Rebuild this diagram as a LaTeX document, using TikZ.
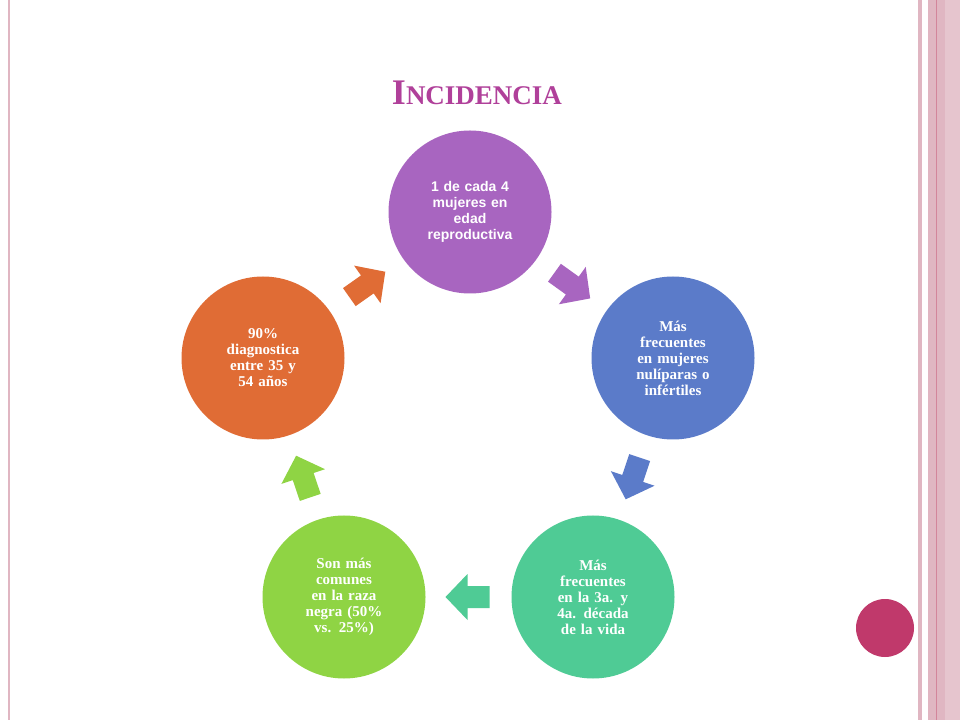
\documentclass[tikz,border=0pt]{standalone}
\usepackage{fontspec}
\setmainfont{Liberation Serif}
\newfontfamily\sansf{Liberation Sans}
\definecolor{cTop}{HTML}{A865C0}
\definecolor{cRight}{HTML}{5B7BC9}
\definecolor{cBR}{HTML}{4FCB95}
\definecolor{cBL}{HTML}{8FD444}
\definecolor{cLeft}{HTML}{E06C35}
\definecolor{pinkS}{HTML}{E0B6C2}
\definecolor{pinkD}{HTML}{C05070}
\definecolor{titleC}{HTML}{B0409A}
\definecolor{btn}{HTML}{C0396B}
\begin{document}
\begin{tikzpicture}[x=1pt,y=1pt,
  circ/.style={circle,minimum size=163pt,inner sep=0pt,text=white,align=center,font=\bfseries\fontsize{15}{16}\selectfont,text width=120pt}]
\fill[white] (0,0) rectangle (960,720);
\useasboundingbox (0,0) rectangle (960,720);
% borders
\fill[pinkS] (8,0) rectangle (10,720);
\fill[pinkS] (918,0) rectangle (922,720);
\fill[pinkS] (928,0) rectangle (960,720);
\fill[pinkD!70] (935.5,0) rectangle (936.5,720);
\fill[pinkS!80] (945,0) rectangle (960,720);
% title
\node (title) at (477,627) {\color{titleC}\bfseries\fontsize{36}{38}\selectfont I\fontsize{27}{30}\selectfont NCIDENCIA};
% circles
\node[circ,fill=cTop,font=\sansf\bfseries\fontsize{14}{16}\selectfont,text width=118pt] (a) at (470,508) {1 de cada 4\\mujeres en\\edad\\reproductiva};
\node[circ,fill=cRight] (b) at (673,362) {Más\\frecuentes\\en mujeres\\nulíparas o\\infértiles};
\node[circ,fill=cBR] (c) at (593,123) {Más\\frecuentes\\en la 3a. y\\4a. década\\de la vida};
\node[circ,fill=cBL] (d) at (344,123) {Son más\\comunes\\en la raza\\negra (50\%\\vs. 25\%)};
\node[circ,fill=cLeft] (e) at (263,362) {90\%\\diagnostica\\entre 35 y\\54 años};
% block arrows
\foreach \mx/\my/\ang/\col in {571.5/435/-35.7/cTop,633/242.5/-108.5/cRight,468.5/123/180/cBR,303.5/242.5/108.7/cBL,366.5/435/35.2/cLeft}{
  \fill[\col,shift={(\mx,\my)},rotate=\ang] (-21,-11) -- (1,-11) -- (1,-23) -- (23,0) -- (1,23) -- (1,11) -- (-21,11) -- cycle;
}
\fill[btn] (885,92) circle (29);
\end{tikzpicture}
\end{document}
